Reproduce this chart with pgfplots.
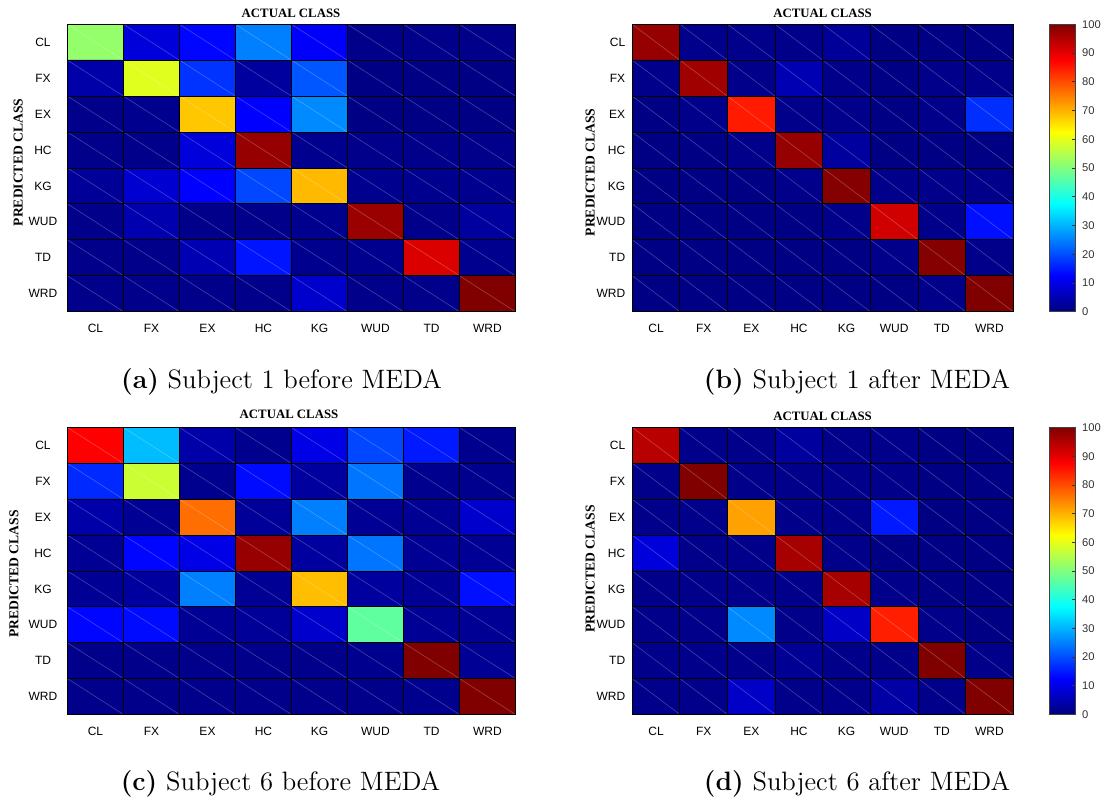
\documentclass[border=0pt]{standalone}
\usepackage{pgfplots}
\pgfplotsset{compat=1.18}
\usepackage{pgfplotstable}
\usepackage{fontspec}
\newfontfamily\sansf{Liberation Sans}
\newfontfamily\serf{Liberation Serif}

% Confusion matrices (x = actual class, y = predicted class), values in percent
\pgfplotstableread[row sep=\\]{
x y v\\
0 0 52\\ 1 0 9\\ 2 0 13\\ 3 0 25\\ 4 0 12\\ 5 0 1\\ 6 0 1\\ 7 0 1\\
0 1 4\\ 1 1 59.5\\ 2 1 17.5\\ 3 1 3\\ 4 1 21\\ 5 1 0.5\\ 6 1 0.5\\ 7 1 0.5\\
0 2 1\\ 1 2 1.5\\ 2 2 68\\ 3 2 12.5\\ 4 2 26\\ 5 2 0.5\\ 6 2 0.5\\ 7 2 0.5\\
0 3 1\\ 1 3 1\\ 2 3 9\\ 3 3 97.8\\ 4 3 1.5\\ 5 3 1\\ 6 3 1\\ 7 3 1\\
0 4 2.5\\ 1 4 8\\ 2 4 12.5\\ 3 4 19.5\\ 4 4 69.3\\ 5 4 1.5\\ 6 4 1.5\\ 7 4 1.5\\
0 5 1\\ 1 5 4.5\\ 2 5 1\\ 3 5 1\\ 4 5 1.5\\ 5 5 97.3\\ 6 5 1\\ 7 5 3\\
0 6 1\\ 1 6 1\\ 2 6 5\\ 3 6 14.5\\ 4 6 1.5\\ 5 6 1.5\\ 6 6 91\\ 7 6 1.5\\
0 7 1\\ 1 7 1\\ 2 7 1\\ 3 7 1\\ 4 7 7.5\\ 5 7 1\\ 6 7 1\\ 7 7 100\\
}\subOneBefore

\pgfplotstableread[row sep=\\]{
x y v\\
0 0 97.8\\ 1 0 1\\ 2 0 1\\ 3 0 1\\ 4 0 2.5\\ 5 0 0.5\\ 6 0 0.5\\ 7 0 0.5\\
0 1 1\\ 1 1 96.8\\ 2 1 1\\ 3 1 5\\ 4 1 1\\ 5 1 0.5\\ 6 1 1\\ 7 1 1\\
0 2 0.5\\ 1 2 1\\ 2 2 85\\ 3 2 1\\ 4 2 1\\ 5 2 0.5\\ 6 2 1\\ 7 2 17\\
0 3 0.5\\ 1 3 0.5\\ 2 3 1\\ 3 3 97.8\\ 4 3 3\\ 5 3 0.5\\ 6 3 0.5\\ 7 3 0.5\\
0 4 0.5\\ 1 4 0.5\\ 2 4 0.5\\ 3 4 1\\ 4 4 99.5\\ 5 4 1\\ 6 4 1\\ 7 4 1\\
0 5 0.5\\ 1 5 0.5\\ 2 5 0.5\\ 3 5 0.5\\ 4 5 1\\ 5 5 92\\ 6 5 1\\ 7 5 14\\
0 6 0.5\\ 1 6 0.5\\ 2 6 0.5\\ 3 6 0.5\\ 4 6 0.5\\ 5 6 1\\ 6 6 99.5\\ 7 6 1\\
0 7 0.5\\ 1 7 0.5\\ 2 7 0.5\\ 3 7 0.5\\ 4 7 0.5\\ 5 7 0.5\\ 6 7 1\\ 7 7 100\\
}\subOneAfter

\pgfplotstableread[row sep=\\]{
x y v\\
0 0 87.5\\ 1 0 31\\ 2 0 4\\ 3 0 1.5\\ 4 0 10\\ 5 0 19.5\\ 6 0 15\\ 7 0 1.5\\
0 1 16.5\\ 1 1 57.5\\ 2 1 1.5\\ 3 1 13.5\\ 4 1 3\\ 5 1 24\\ 6 1 1.5\\ 7 1 1.5\\
0 2 4\\ 1 2 2\\ 2 2 76.7\\ 3 2 2.5\\ 4 2 25\\ 5 2 2\\ 6 2 2\\ 7 2 7.5\\
0 3 2\\ 1 3 13\\ 2 3 10\\ 3 3 97.8\\ 4 3 3\\ 5 3 24\\ 6 3 2\\ 7 3 2\\
0 4 2\\ 1 4 3\\ 2 4 25\\ 3 4 2\\ 4 4 68.9\\ 5 4 3\\ 6 4 2\\ 7 4 14\\
0 5 13\\ 1 5 13.5\\ 2 5 2\\ 3 5 2.5\\ 4 5 7.5\\ 5 5 46.8\\ 6 5 2\\ 7 5 2\\
0 6 1\\ 1 6 1\\ 2 6 1\\ 3 6 1\\ 4 6 1\\ 5 6 1.5\\ 6 6 100\\ 7 6 2\\
0 7 1\\ 1 7 1\\ 2 7 1\\ 3 7 1\\ 4 7 1\\ 5 7 1\\ 6 7 1.5\\ 7 7 100\\
}\subSixBefore

\pgfplotstableread[row sep=\\]{
x y v\\
0 0 94.4\\ 1 0 1\\ 2 0 1\\ 3 0 3\\ 4 0 1\\ 5 0 1\\ 6 0 0.5\\ 7 0 0.5\\
0 1 1\\ 1 1 100\\ 2 1 1\\ 3 1 1\\ 4 1 1\\ 5 1 1\\ 6 1 0.5\\ 7 1 0.5\\
0 2 1\\ 1 2 1\\ 2 2 71.7\\ 3 2 1\\ 4 2 1\\ 5 2 15\\ 6 2 0.5\\ 7 2 0.5\\
0 3 9\\ 1 3 1\\ 2 3 1\\ 3 3 96.3\\ 4 3 1\\ 5 3 0.5\\ 6 3 0.5\\ 7 3 0.5\\
0 4 1\\ 1 4 1\\ 2 4 1\\ 3 4 1\\ 4 4 96.3\\ 5 4 1\\ 6 4 0.5\\ 7 4 0.5\\
0 5 1\\ 1 5 1\\ 2 5 26\\ 3 5 1\\ 4 5 7\\ 5 5 84.5\\ 6 5 1\\ 7 5 0.5\\
0 6 1\\ 1 6 1\\ 2 6 1\\ 3 6 2\\ 4 6 1\\ 5 6 1\\ 6 6 100\\ 7 6 1\\
0 7 1\\ 1 7 1\\ 2 7 7\\ 3 7 1\\ 4 7 1\\ 5 7 3.5\\ 6 7 1\\ 7 7 100\\
}\subSixAfter

\pgfplotsset{
  confmat/.style={
    scale only axis, anchor=north west,
    xmin=-0.5, xmax=7.5, ymin=-0.5, ymax=7.5, y dir=reverse,
    xtick={0,...,7}, ytick={0,...,7},
    xticklabels={CL,FX,EX,HC,KG,WUD,TD,WRD},
    yticklabels={CL,FX,EX,HC,KG,WUD,TD,WRD},
    major tick length=0pt, minor tick length=0pt,
    minor xtick={0.5,1.5,...,6.5}, minor ytick={0.5,1.5,...,6.5},
    xminorgrids, yminorgrids,
    minor grid style={black, line width=0.5pt},
    axis on top, axis line style={black, line width=0.6pt},
    colormap/jet, point meta min=0, point meta max=100,
    tick label style={font=\sansf\fontsize{6}{7}\selectfont},
    xticklabel style={anchor=base, yshift=-10.3pt},
  },
  leftlabels/.style={yticklabel style={anchor=center, xshift=-12.25pt}},
  withbar/.style={
    colorbar,
    colorbar style={
      at={(parent axis.north east)}, anchor=north west, xshift=9.5pt,
      scale only axis, width=12.85pt, y dir=normal,
      ytick={0,10,...,100}, ytick pos=right, tick align=inside,
      major tick length=1.6pt, tick style={black!80, line width=0.4pt},
      /pgf/number format/assume math mode=true,
      yticklabel style={font=\sansf\fontsize{5.6}{6.5}\selectfont, text=black!80},
      axis line style={black!75, line width=0.5pt},
    },
  },
}
\tikzset{diag/.style={white, opacity=0.25, line width=0.3pt}}

% faint cell diagonals (top left to bottom right of every cell)
\newcommand\celldiagonals{%
  \draw[diag] (axis cs:-7.5,-0.5) -- (axis cs:0.5,7.5);
  \draw[diag] (axis cs:-6.5,-0.5) -- (axis cs:1.5,7.5);
  \draw[diag] (axis cs:-5.5,-0.5) -- (axis cs:2.5,7.5);
  \draw[diag] (axis cs:-4.5,-0.5) -- (axis cs:3.5,7.5);
  \draw[diag] (axis cs:-3.5,-0.5) -- (axis cs:4.5,7.5);
  \draw[diag] (axis cs:-2.5,-0.5) -- (axis cs:5.5,7.5);
  \draw[diag] (axis cs:-1.5,-0.5) -- (axis cs:6.5,7.5);
  \draw[diag] (axis cs:-0.5,-0.5) -- (axis cs:7.5,7.5);
  \draw[diag] (axis cs:0.5,-0.5) -- (axis cs:8.5,7.5);
  \draw[diag] (axis cs:1.5,-0.5) -- (axis cs:9.5,7.5);
  \draw[diag] (axis cs:2.5,-0.5) -- (axis cs:10.5,7.5);
  \draw[diag] (axis cs:3.5,-0.5) -- (axis cs:11.5,7.5);
  \draw[diag] (axis cs:4.5,-0.5) -- (axis cs:12.5,7.5);
  \draw[diag] (axis cs:5.5,-0.5) -- (axis cs:13.5,7.5);
  \draw[diag] (axis cs:6.5,-0.5) -- (axis cs:14.5,7.5);
}

\newcommand\titlefont{\serf\bfseries\fontsize{6.4}{7}\selectfont}
\newcommand\ylabfont{\serf\bfseries\fontsize{6.8}{8}\selectfont}
\newcommand\capfont{\fontsize{13.3}{16}\selectfont}

\begin{document}
\begin{tikzpicture}
\useasboundingbox (0,0) rectangle (552pt,-400pt);

% (a)
\begin{axis}[confmat, leftlabels, at={(33.75pt,-12.15pt)}, width=224pt, height=143.7pt]
  \addplot[matrix plot*, mesh/cols=8, point meta=explicit] table[x=x, y=y, meta=v] {\subOneBefore};
  \celldiagonals
\end{axis}
% (b)
\begin{axis}[confmat, withbar, at={(316.15pt,-12.15pt)}, width=190.5pt, height=143.7pt]
  \addplot[matrix plot*, mesh/cols=8, point meta=explicit] table[x=x, y=y, meta=v] {\subOneAfter};
  \celldiagonals
\end{axis}
% (c)
\begin{axis}[confmat, leftlabels, at={(33.75pt,-213.75pt)}, width=224pt, height=143.5pt]
  \addplot[matrix plot*, mesh/cols=8, point meta=explicit] table[x=x, y=y, meta=v] {\subSixBefore};
  \celldiagonals
\end{axis}
% (d)
\begin{axis}[confmat, withbar, at={(316.15pt,-213.75pt)}, width=190.5pt, height=143.5pt]
  \addplot[matrix plot*, mesh/cols=8, point meta=explicit] table[x=x, y=y, meta=v] {\subSixAfter};
  \celldiagonals
\end{axis}

% column and row headings
\node[anchor=base, inner sep=0, font=\titlefont] at (145.5pt,-8.65pt) {ACTUAL CLASS};
\node[anchor=base, inner sep=0, font=\titlefont] at (411.3pt,-8.65pt) {ACTUAL CLASS};
\node[anchor=base, inner sep=0, font=\titlefont] at (144.5pt,-209.15pt) {ACTUAL CLASS};
\node[anchor=base, inner sep=0, font=\titlefont] at (411.3pt,-210.35pt) {ACTUAL CLASS};
\node[anchor=base, inner sep=0, rotate=90, font=\ylabfont] at (11.35pt,-81.25pt) {PREDICTED CLASS};
\node[anchor=base, inner sep=0, rotate=90, font=\ylabfont] at (297.35pt,-86.25pt) {PREDICTED CLASS};
\node[anchor=base, inner sep=0, rotate=90, font=\ylabfont] at (9.15pt,-287pt) {PREDICTED CLASS};
\node[anchor=base, inner sep=0, rotate=90, font=\ylabfont] at (297.35pt,-284.5pt) {PREDICTED CLASS};

% sub-captions
\node[anchor=base, inner sep=0, font=\capfont] at (140.75pt,-194pt) {\textbf{(a)} Subject 1 before MEDA};
\node[anchor=base, inner sep=0, font=\capfont] at (428.5pt,-194pt) {\textbf{(b)} Subject 1 after MEDA};
\node[anchor=base, inner sep=0, font=\capfont] at (140.25pt,-395.35pt) {\textbf{(c)} Subject 6 before MEDA};
\node[anchor=base, inner sep=0, font=\capfont] at (428.5pt,-395pt) {\textbf{(d)} Subject 6 after MEDA};
\end{tikzpicture}
\end{document}
